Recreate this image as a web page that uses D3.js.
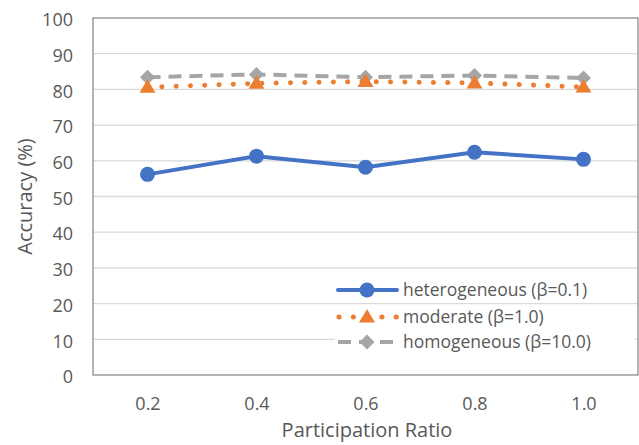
<!DOCTYPE html>
<html><head><meta charset="utf-8">
<script src="https://cdn.jsdelivr.net/npm/d3@7"></script>
<style>body{margin:0;background:#fff}svg{display:block;font-family:"Open Sans",sans-serif}</style>
</head><body><svg id="c" width="639" height="445"></svg>
<script>
const categories = ["0.2","0.4","0.6","0.8","1.0"];
const heterogeneous = [56.2, 61.3, 58.2, 62.4, 60.4];
const moderate = [80.6, 81.7, 82.2, 81.8, 80.7];
const homogeneous = [83.4, 84.2, 83.4, 83.9, 83.2];
const yTicks = [0,10,20,30,40,50,60,70,80,90,100];
const seriesNames = ["heterogeneous (β=0.1)","moderate (β=1.0)","homogeneous (β=10.0)"];

const svg = d3.select("#c");
const L=93, R=638, T=18, B=375;
const x = d3.scalePoint().domain(categories).range([L,R]).padding(0.5);
const y = d3.scaleLinear().domain([0,100]).range([B,T]);
const txt="#595959";

svg.append("g").selectAll("line").data(yTicks.filter(d=>d>0&&d<100)).join("line")
  .attr("x1",L).attr("x2",R).attr("y1",d=>y(d)).attr("y2",d=>y(d))
  .attr("stroke","#d9d9d9").attr("stroke-width",1.3);
svg.append("rect").attr("x",L).attr("y",T).attr("width",R-L).attr("height",B-T)
  .attr("fill","none").attr("stroke","#8c8c8c").attr("stroke-width",1.3);

const ya = svg.append("g").attr("transform",`translate(${L-20},2)`)
  .call(d3.axisLeft(y).tickValues(yTicks).tickSize(0).tickPadding(0));
ya.select(".domain").remove();
ya.selectAll("text").attr("font-size",18).attr("fill",txt).attr("font-family","Open Sans");

const xa = svg.append("g").attr("transform",`translate(0,410)`)
  .call(d3.axisBottom(x).tickSize(0).tickPadding(0));
xa.select(".domain").remove();
xa.selectAll("text").attr("font-size",18).attr("fill",txt).attr("font-family","Open Sans").attr("dy","0");

svg.append("text").attr("x",367).attr("y",437).attr("text-anchor","middle")
  .attr("font-size",20).attr("fill",txt).text("Participation Ratio");
svg.append("text").attr("transform",`translate(32,${(T+B)/2}) rotate(-90)`).attr("text-anchor","middle")
  .attr("font-size",20).attr("fill",txt).text("Accuracy (%)");

const line = d3.line().x((d,i)=>x(categories[i])).y(d=>y(d));
const series = [
  {vals:homogeneous,color:"#a5a5a5",w:4,dash:"13,8",cap:"butt",marker:"diamond"},
  {vals:moderate,color:"#ed7d31",w:5,dash:"0.1,14.2",cap:"round",marker:"triangle"},
  {vals:heterogeneous,color:"#4472c4",w:4,dash:null,cap:"round",marker:"circle"}
];
function marker(g,type,color,cx,cy){
  if(type==="circle") g.append("circle").attr("cx",cx).attr("cy",cy).attr("r",7.5).attr("fill",color);
  else if(type==="triangle") g.append("path").attr("d",`M${cx},${cy-8}L${cx+8},${cy+5.5}L${cx-8},${cy+5.5}Z`).attr("fill",color);
  else g.append("path").attr("d",`M${cx},${cy-7.5}L${cx+7.5},${cy}L${cx},${cy+7.5}L${cx-7.5},${cy}Z`).attr("fill",color);
}
series.forEach(s=>{
  svg.append("path").datum(s.vals).attr("d",line).attr("fill","none")
    .attr("stroke",s.color).attr("stroke-width",s.w).attr("stroke-linecap",s.cap)
    .attr("stroke-dasharray",s.dash);
  const g=svg.append("g");
  s.vals.forEach((v,i)=>marker(g,s.marker,s.color,x(categories[i]),y(v)));
});

const leg = svg.append("g");
const legItems = [series[2],series[1],series[0]];
const ly=[290,317,342];
legItems.forEach((s,i)=>{
  leg.append("rect").attr("x",335).attr("y",ly[i]-12).attr("width",300).attr("height",24).attr("fill","#fff");
});
legItems.forEach((s,i)=>{
  leg.append("line").attr("x1",s.cap==="round"&&s.dash?339:338).attr("x2",397).attr("y1",ly[i]).attr("y2",ly[i])
    .attr("stroke",s.color).attr("stroke-width",s.w).attr("stroke-linecap",s.cap).attr("stroke-dasharray",s.dash);
  marker(leg,s.marker,s.color,367,ly[i]);
  leg.append("text").attr("x",403).attr("y",ly[i]).attr("dy","0.35em").attr("font-size",17.5)
    .attr("fill",txt).text(seriesNames[i]);
});
</script></body></html>
